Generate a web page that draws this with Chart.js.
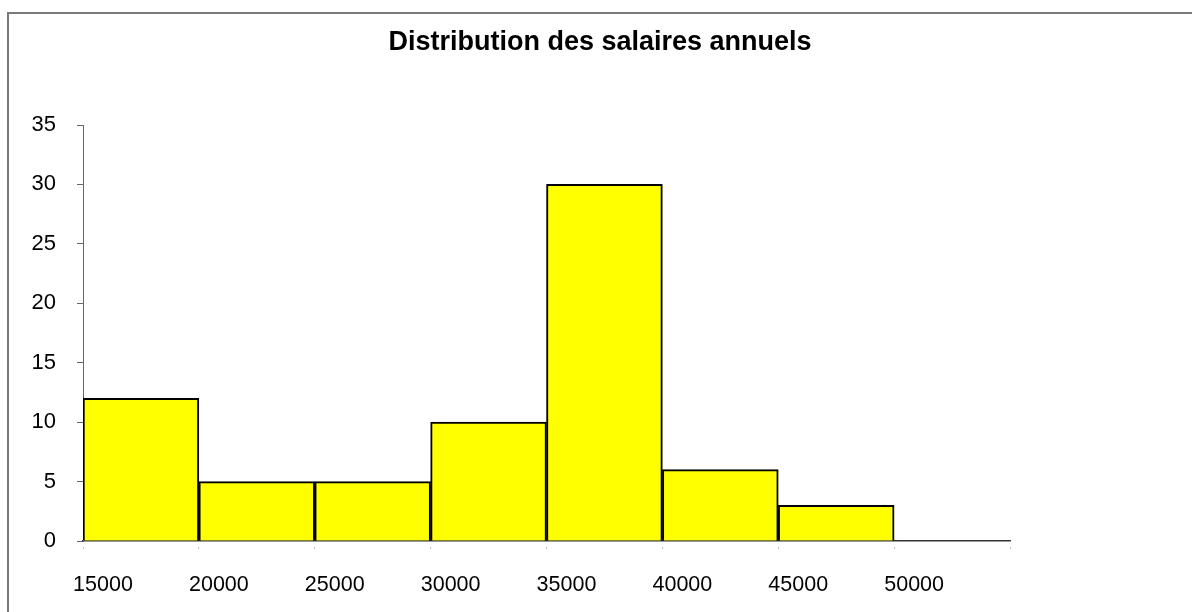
<!DOCTYPE html>
<html>
<head>
<meta charset="utf-8">
<script src="https://cdn.jsdelivr.net/npm/chart.js@4/dist/chart.umd.min.js"></script>
<style>
  html, body { margin: 0; padding: 0; background: #ffffff; overflow: hidden; width: 1192px; height: 612px; }
  #wrap { position: relative; width: 1192px; height: 612px; }
  #frame { position: absolute; left: 7px; top: 12px; width: 1400px; height: 900px; border: 2px solid #7a7a7a; box-sizing: border-box; }
  #c { position: absolute; left: 0; top: 0; }
</style>
</head>
<body>
<div id="wrap">
  <div id="frame"></div>
  <canvas id="c" width="1192" height="612"></canvas>
</div>
<script>
// ---- data ----
const chartTitle = "Distribution des salaires annuels";
const binStart = [15000, 20000, 25000, 30000, 35000, 40000, 45000];
const binWidth = 5000;
const frequencies = [12, 5, 5, 10, 30, 6, 3];
const xTickValues = [15000, 20000, 25000, 30000, 35000, 40000, 45000, 50000, 55000];
const xTickLabels = ["15000", "20000", "25000", "30000", "35000", "40000", "45000", "50000", ""];
const yTickLabels = ["0", "5", "10", "15", "20", "25", "30", "35"];

const points = binStart.map((s, i) => ({ x: s + binWidth / 2, y: frequencies[i] }));
const FONT = "'Liberation Sans', Arial, sans-serif";

new Chart(document.getElementById('c'), {
  type: 'bar',
  data: {
    datasets: [{
      data: points,
      xAxisID: 'x',
      yAxisID: 'y',
      backgroundColor: '#ffff00',
      borderColor: '#000000',
      borderWidth: 2,
      barPercentage: 1,
      categoryPercentage: 1
    }]
  },
  options: {
    responsive: false,
    animation: false,
    devicePixelRatio: 1,
    layout: { padding: { left: 8, right: 0, top: 0, bottom: 0 } },
    plugins: {
      legend: { display: false },
      tooltip: { enabled: false },
      title: {
        display: true,
        text: chartTitle,
        color: '#000000',
        font: { family: FONT, size: 27, weight: 'bold', lineHeight: 1.2 },
        padding: { top: 26.8, bottom: 65.8 }
      }
    },
    scales: {
      x: {
        type: 'linear',
        offset: false,
        min: xTickValues[0],
        max: xTickValues[xTickValues.length - 1],
        afterBuildTicks: (scale) => { scale.ticks = xTickValues.map(v => ({ value: v })); },
        afterFit: (scale) => { scale.height = 71; },
        grid: {
          offset: false,
          drawOnChartArea: false,
          drawTicks: true,
          tickLength: 8,
          tickColor: '#8a8a8a',
          tickWidth: 1,
          tickBorderDash: [1, 7],
          tickBorderDashOffset: 2
        },
        border: { display: true, color: '#333333', width: 1.5 },
        ticks: {
          autoSkip: false,
          maxRotation: 0,
          labelOffset: 20,
          padding: 23,
          color: '#000000',
          font: { family: FONT, size: 21.5 },
          callback: (v) => { const i = xTickValues.indexOf(v); return i >= 0 ? xTickLabels[i] : ''; }
        }
      },
      y: {
        min: 0,
        max: 35,
        afterBuildTicks: (scale) => { scale.ticks = yTickLabels.map(t => ({ value: Number(t) })); },
        afterFit: (scale) => { scale.width = 75; },
        grid: {
          drawOnChartArea: false,
          drawTicks: true,
          tickLength: 6,
          tickColor: '#666666',
          tickWidth: 1
        },
        border: { display: true, color: '#666666', width: 1 },
        ticks: {
          padding: 21,
          color: '#000000',
          font: { family: FONT, size: 22 },
          callback: (v) => String(v)
        }
      },
      rightSpace: {
        type: 'linear',
        position: 'right',
        display: true,
        afterFit: (scale) => { scale.width = 182; },
        grid: { display: false, drawTicks: false },
        border: { display: false },
        ticks: { display: false }
      }
    }
  }
});
</script>
</body>
</html>
